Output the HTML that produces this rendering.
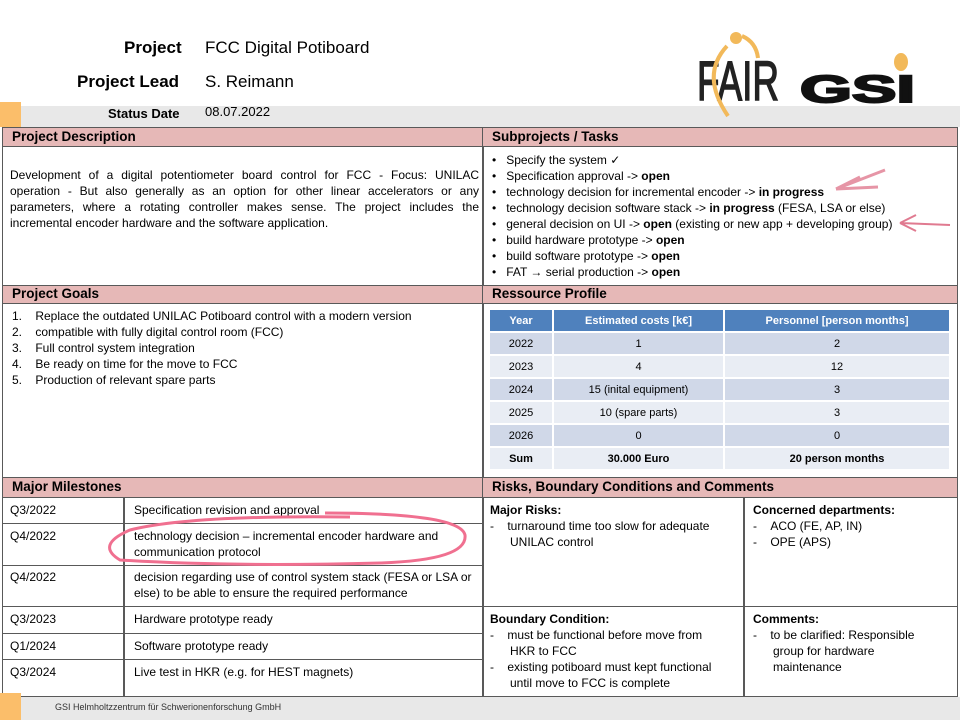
<!DOCTYPE html>
<html><head><meta charset="utf-8"><style>
*{margin:0;padding:0;box-sizing:border-box}
body{width:960px;height:720px;position:relative;background:#fff;font-family:"Liberation Sans",Arial,sans-serif;color:#000;overflow:hidden}
.a{position:absolute;white-space:nowrap}
.hdr{position:absolute;background:#e6b8b7;border:1.5px solid #595959;font-weight:bold;font-size:13.5px;padding-left:9px;line-height:18px}
.ln{position:absolute;background:#595959}
.t{font-size:12px;line-height:16px}
table{border-collapse:separate;border-spacing:2px;font-size:11px}
td{text-align:center;height:21px}
.j{display:block;width:469px;text-align:justify;text-align-last:justify;white-space:nowrap}
</style></head><body>
<div class="a" style="left:124px;top:38px;font-size:17px;font-weight:bold">Project</div>
<div class="a" style="left:205px;top:38px;font-size:17px">FCC Digital Potiboard</div>
<div class="a" style="left:77px;top:72px;font-size:17px;font-weight:bold">Project Lead</div>
<div class="a" style="left:205px;top:72px;font-size:17px">S. Reimann</div>
<div class="a" style="left:21px;top:106px;width:939px;height:21px;background:#e8e8e8"></div>
<div class="a" style="left:0;top:102px;width:21px;height:25px;background:#fbbe6a"></div>
<div class="a" style="left:108px;top:106px;font-size:13px;font-weight:bold">Status Date</div>
<div class="a" style="left:205px;top:104px;font-size:13px">08.07.2022</div>
<svg class="a" style="left:690px;top:30px" width="240" height="90">
<text x="7" y="70" font-family="Liberation Sans" font-size="56" fill="#222" stroke="#222" stroke-width="1.5" textLength="82" lengthAdjust="spacingAndGlyphs">FAIR</text>
<path d="M38,86 Q10,45 37,16" stroke="#f2b95a" stroke-width="4" fill="none"/>
<path d="M52,6 Q66,12 68,28" stroke="#f2b95a" stroke-width="4" fill="none"/>
<circle cx="46" cy="8" r="6" fill="#f2b95a"/>
<text x="110" y="72" font-family="Liberation Sans" font-weight="bold" font-size="38" fill="#111" stroke="#111" stroke-width="2" textLength="115" lengthAdjust="spacingAndGlyphs">GSI</text>
<ellipse cx="211" cy="32" rx="7" ry="9" fill="#f2b95a"/>
</svg>
<div class="a" style="left:2px;top:127px;width:956px;height:570px;border:1.5px solid #595959"></div>
<div class="ln" style="left:482px;top:127px;width:1.5px;height:352px"></div>
<div class="ln" style="left:482px;top:477px;width:1.5px;height:220px"></div>
<div class="hdr" style="left:2px;top:127px;width:481px;height:20px">Project Description</div>
<div class="hdr" style="left:482px;top:127px;width:476px;height:20px">Subprojects / Tasks</div>
<div class="a t" style="left:10px;top:167px"><span class="j">Development of a digital potentiometer board control for FCC - Focus: UNILAC</span><span class="j">operation - But also generally as an option for other linear accelerators or any</span><span class="j">parameters, where a rotating controller makes sense. The project includes the</span>incremental encoder hardware and the software application.</div>
<div class="a t" style="left:492px;top:152px">
•&nbsp;&nbsp;&nbsp;Specify the system ✓<br>•&nbsp;&nbsp;&nbsp;Specification approval -&gt; <b>open</b><br>•&nbsp;&nbsp;&nbsp;technology decision for incremental encoder -&gt; <b>in progress</b><br>•&nbsp;&nbsp;&nbsp;technology decision software stack -&gt; <b>in progress</b> (FESA, LSA or else)<br>•&nbsp;&nbsp;&nbsp;general decision on UI -&gt; <b>open</b> (existing or new app + developing group)<br>•&nbsp;&nbsp;&nbsp;build hardware prototype -&gt; <b>open</b><br>•&nbsp;&nbsp;&nbsp;build software prototype -&gt; <b>open</b><br>•&nbsp;&nbsp;&nbsp;FAT → serial production -&gt; <b>open</b></div>
<svg class="a" style="left:820px;top:165px" width="140" height="75">
<path d="M16,24 L65,5 M16,24 L58,22 M16,24 L40,12" stroke="#e07a90" stroke-width="3" fill="none" opacity="0.8"/>
<path d="M80,58 L130,60 M80,58 L96,50 M80,58 L96,66" stroke="#e07a90" stroke-width="2" fill="none"/>
</svg>
<div class="hdr" style="left:2px;top:285px;width:481px;height:19px;line-height:16px">Project Goals</div>
<div class="hdr" style="left:482px;top:285px;width:476px;height:19px;line-height:16px">Ressource Profile</div>
<div class="a t" style="left:12px;top:308px">1.&nbsp;&nbsp;&nbsp;&nbsp;Replace the outdated UNILAC Potiboard control with a modern version<br>2.&nbsp;&nbsp;&nbsp;&nbsp;compatible with fully digital control room (FCC)<br>3.&nbsp;&nbsp;&nbsp;&nbsp;Full control system integration<br>4.&nbsp;&nbsp;&nbsp;&nbsp;Be ready on time for the move to FCC<br>5.&nbsp;&nbsp;&nbsp;&nbsp;Production of relevant spare parts</div>
<table class="a" style="left:488px;top:308px;width:463px">
<tr style="background:#4f81bd;color:#fff;font-weight:bold"><td style="width:62px">Year</td><td style="width:169px">Estimated costs [k€]</td><td>Personnel [person months]</td></tr>
<tr style="background:#d0d8e8"><td>2022</td><td>1</td><td>2</td></tr>
<tr style="background:#e9edf4"><td>2023</td><td>4</td><td>12</td></tr>
<tr style="background:#d0d8e8"><td>2024</td><td>15 (inital equipment)</td><td>3</td></tr>
<tr style="background:#e9edf4"><td>2025</td><td>10 (spare parts)</td><td>3</td></tr>
<tr style="background:#d0d8e8"><td>2026</td><td>0</td><td>0</td></tr>
<tr style="background:#e9edf4;font-weight:bold"><td>Sum</td><td>30.000 Euro</td><td>20 person months</td></tr>
</table>
<div class="hdr" style="left:2px;top:477px;width:481px;height:21px">Major Milestones</div>
<div class="hdr" style="left:482px;top:477px;width:476px;height:21px">Risks, Boundary Conditions and Comments</div>
<div class="ln" style="left:123px;top:497px;width:1.5px;height:200px"></div>
<div class="ln" style="left:2px;top:523px;width:481px;height:1px"></div>
<div class="ln" style="left:2px;top:565px;width:481px;height:1px"></div>
<div class="ln" style="left:2px;top:606px;width:956px;height:1px"></div>
<div class="ln" style="left:2px;top:633px;width:481px;height:1px"></div>
<div class="ln" style="left:2px;top:659px;width:481px;height:1px"></div>
<div class="ln" style="left:743px;top:497px;width:1.5px;height:200px"></div>
<div class="a t" style="left:10px;top:502px">
<div style="position:absolute;top:0">Q3/2022</div><div style="position:absolute;top:26px">Q4/2022</div><div style="position:absolute;top:67px">Q4/2022</div><div style="position:absolute;top:109px">Q3/2023</div><div style="position:absolute;top:136px">Q1/2024</div><div style="position:absolute;top:162px">Q3/2024</div></div>
<div class="a t" style="left:134px;top:502px">
<div style="position:absolute;top:0">Specification revision and approval</div><div style="position:absolute;top:26px">technology decision – incremental encoder hardware and<br>communication protocol</div><div style="position:absolute;top:67px">decision regarding use of control system stack (FESA or LSA or<br>else) to be able to ensure the required performance</div><div style="position:absolute;top:109px">Hardware prototype ready</div><div style="position:absolute;top:136px">Software prototype ready</div><div style="position:absolute;top:162px">Live test in HKR (e.g. for HEST magnets)</div></div>
<svg class="a" style="left:100px;top:505px" width="380" height="75">
<path d="M225,8 Q360,8 365,30 Q368,55 280,58 Q130,62 20,55 Q-5,40 30,25 Q90,10 250,12" stroke="#f07090" stroke-width="3" fill="none"/>
</svg>
<div class="a t" style="left:490px;top:502px"><b>Major Risks:</b><br>-&nbsp;&nbsp;&nbsp;&nbsp;turnaround time too slow for adequate<br>&nbsp;&nbsp;&nbsp;&nbsp;&nbsp;&nbsp;UNILAC control</div>
<div class="a t" style="left:753px;top:502px"><b>Concerned departments:</b><br>-&nbsp;&nbsp;&nbsp;&nbsp;ACO (FE, AP, IN)<br>-&nbsp;&nbsp;&nbsp;&nbsp;OPE (APS)</div>
<div class="a t" style="left:490px;top:611px"><b>Boundary Condition:</b><br>-&nbsp;&nbsp;&nbsp;&nbsp;must be functional before move from<br>&nbsp;&nbsp;&nbsp;&nbsp;&nbsp;&nbsp;HKR to FCC<br>-&nbsp;&nbsp;&nbsp;&nbsp;existing potiboard must kept functional<br>&nbsp;&nbsp;&nbsp;&nbsp;&nbsp;&nbsp;until move to FCC is complete</div>
<div class="a t" style="left:753px;top:611px"><b>Comments:</b><br>-&nbsp;&nbsp;&nbsp;&nbsp;to be clarified: Responsible<br>&nbsp;&nbsp;&nbsp;&nbsp;&nbsp;&nbsp;group for hardware<br>&nbsp;&nbsp;&nbsp;&nbsp;&nbsp;&nbsp;maintenance</div>
<div class="a" style="left:21px;top:697px;width:939px;height:23px;background:#e8e8e8"></div>
<div class="a" style="left:0;top:693px;width:21px;height:27px;background:#fbbe6a"></div>
<div class="a" style="left:55px;top:702px;font-size:9px;color:#333">GSI Helmholtzzentrum für Schwerionenforschung GmbH</div>
</body></html>
